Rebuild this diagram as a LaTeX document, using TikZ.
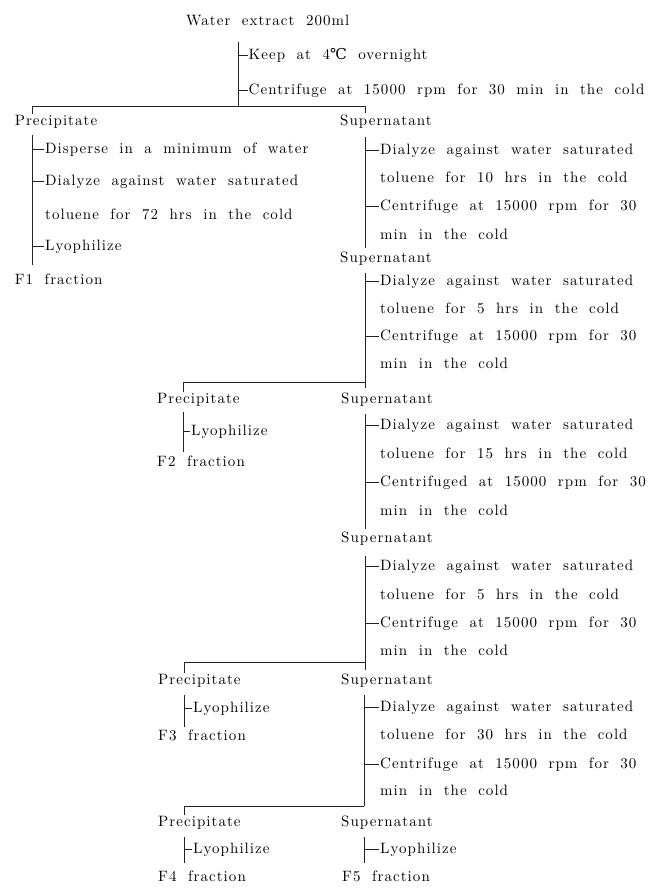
\documentclass[tikz,border=0pt]{standalone}
\usepackage{fontspec}
\setmainfont{lmroman10-regular.otf}[LetterSpace=7, WordSpace=1.9]
\newfontfamily\degreefont{DejaVu Serif}

\begin{document}
\begin{tikzpicture}[x=1pt, y=-1pt,
    every node/.style={font=\fontsize{15}{18}\selectfont, inner sep=1pt},
    txt/.style={anchor=mid west},
    line/.style={draw=lineColour, line width=0.8pt}]
    \definecolor{lineColour}{HTML}{222222}

    \useasboundingbox (0,0) rectangle (655,888);

    % Starting material and first treatment
    \node[txt] (water) at (185,23) {Water extract 200ml};
    \coordinate (s0top) at (238.5,42);
    \coordinate (s0bot) at (238.5,106);
    \node[txt] (keep) at (247.5,57) {Keep at 4{\degreefont ℃} overnight};
    \node[txt] (cen0) at (247.5,92) {Centrifuge at 15000 rpm for 30 min in the cold};
    \draw[line] (s0top) -- (s0bot);
    \foreach \n in {keep,cen0}
        \draw[line] (\n.west -| s0top) -- (\n.west);

    % First split
    \node[txt] (prec1) at (13.6,123) {Precipitate};
    \node[txt] (sup1) at (339,123) {Supernatant};
    \coordinate (b1l) at (32.6,106);
    \coordinate (b1r) at (365,106);
    \draw[line] (b1l |- prec1.north) -- (b1l) -- (b1r) -- (b1r |- sup1.north);

    % Precipitate -> F1
    \coordinate (p1top) at (32.6,135);
    \coordinate (p1bot) at (32.6,265);
    \node[txt] (disp1) at (44,151) {Disperse in a minimum of water};
    \node[txt] (dial1) at (44,183) {Dialyze against water saturated};
    \node[txt] (tol1) at (44,217) {toluene for 72 hrs in the cold};
    \node[txt] (lyo1) at (44,248) {Lyophilize};
    \node[txt] (f1) at (13.6,282) {F1 fraction};
    \draw[line] (p1top) -- (p1bot);
    \foreach \n in {disp1,dial1,lyo1}
        \draw[line] (\n.west -| p1top) -- (\n.west);

    % Supernatant, 10 hrs
    \coordinate (s1top) at (365,137);
    \coordinate (s1bot) at (365,248);
    \node[txt] (dial2) at (379,152) {Dialyze against water saturated};
    \node[txt] (tol2) at (379,180) {toluene for 10 hrs in the cold};
    \node[txt] (cen2) at (379,208) {Centrifuge at 15000 rpm for 30};
    \node[txt] (min2) at (379,237) {min in the cold};
    \draw[line] (s1top) -- (s1bot);
    \foreach \n in {dial2,cen2}
        \draw[line] (\n.west -| s1top) -- (\n.west);

    % Supernatant, 5 hrs
    \node[txt] (sup2) at (339,260) {Supernatant};
    \coordinate (s2top) at (365,273);
    \coordinate (s2bot) at (365,388);
    \node[txt] (dial3) at (379,283) {Dialyze against water saturated};
    \node[txt] (tol3) at (379,311) {toluene for 5 hrs in the cold};
    \node[txt] (cen3) at (379,338) {Centrifuge at 15000 rpm for 30};
    \node[txt] (min3) at (379,366) {min in the cold};
    \draw[line] (s2top) -- (s2bot);
    \foreach \n in {dial3,cen3}
        \draw[line] (\n.west -| s2top) -- (\n.west);

    % Second split -> F2
    \node[txt] (prec2) at (156,401) {Precipitate};
    \node[txt] (sup3) at (340,401) {Supernatant};
    \coordinate (b2l) at (183,382);
    \coordinate (b2r) at (365,382);
    \draw[line] (b2l |- prec2.north) -- (b2l) -- (b2r);
    \coordinate (p2top) at (183,412);
    \coordinate (p2bot) at (183,452);
    \node[txt] (lyo2) at (190,433) {Lyophilize};
    \node[txt] (f2) at (156,464) {F2 fraction};
    \draw[line] (p2top) -- (p2bot);
    \draw[line] (lyo2.west -| p2top) -- (lyo2.west);

    % Supernatant, 15 hrs
    \coordinate (s3top) at (365,414);
    \coordinate (s3bot) at (365,529);
    \node[txt] (dial4) at (379,427) {Dialyze against water saturated};
    \node[txt] (tol4) at (379,456) {toluene for 15 hrs in the cold};
    \node[txt] (cen4) at (379,484) {Centrifuged at 15000 rpm for 30};
    \node[txt] (min4) at (379,513) {min in the cold};
    \draw[line] (s3top) -- (s3bot);
    \foreach \n in {dial4,cen4}
        \draw[line] (\n.west -| s3top) -- (\n.west);

    % Supernatant, 5 hrs
    \node[txt] (sup4) at (340,540) {Supernatant};
    \coordinate (s4top) at (365,556);
    \coordinate (s4bot) at (365,670);
    \node[txt] (dial5) at (379,568) {Dialyze against water saturated};
    \node[txt] (tol5) at (379,597) {toluene for 5 hrs in the cold};
    \node[txt] (cen5) at (379,625) {Centrifuge at 15000 rpm for 30};
    \node[txt] (min5) at (379,653) {min in the cold};
    \draw[line] (s4top) -- (s4bot);
    \foreach \n in {dial5,cen5}
        \draw[line] (\n.west -| s4top) -- (\n.west);

    % Third split -> F3
    \node[txt] (prec3) at (157,682) {Precipitate};
    \node[txt] (sup5) at (340,682) {Supernatant};
    \coordinate (b3l) at (184,662);
    \coordinate (b3r) at (365,662);
    \draw[line] (b3l |- prec3.north) -- (b3l) -- (b3r);
    \coordinate (p3top) at (184,695);
    \coordinate (p3bot) at (184,727);
    \node[txt] (lyo3) at (192,710) {Lyophilize};
    \node[txt] (f3) at (157,738) {F3 fraction};
    \draw[line] (p3top) -- (p3bot);
    \draw[line] (lyo3.west -| p3top) -- (lyo3.west);

    % Supernatant, 30 hrs
    \coordinate (s5top) at (364,695);
    \coordinate (s5bot) at (364,806);
    \node[txt] (dial6) at (379,709) {Dialyze against water saturated};
    \node[txt] (tol6) at (379,737) {toluene for 30 hrs in the cold};
    \node[txt] (cen6) at (379,766) {Centrifuge at 15000 rpm for 30};
    \node[txt] (min6) at (379,793) {min in the cold};
    \draw[line] (s5top) -- (s5bot);
    \foreach \n in {dial6,cen6}
        \draw[line] (\n.west -| s5top) -- (\n.west);

    % Last split -> F4 and F5
    \node[txt] (prec4) at (157,824) {Precipitate};
    \node[txt] (sup6) at (340,824) {Supernatant};
    \coordinate (b4l) at (184,806);
    \draw[line] (b4l |- prec4.north) -- (b4l) -- (s5bot);
    \coordinate (p4top) at (184,837);
    \coordinate (p4bot) at (184,863);
    \coordinate (s6top) at (364,837);
    \coordinate (s6bot) at (364,863);
    \node[txt] (lyo4) at (192,851) {Lyophilize};
    \node[txt] (lyo5) at (379,851) {Lyophilize};
    \node[txt] (f4) at (157,879) {F4 fraction};
    \node[txt] (f5) at (341,879) {F5 fraction};
    \draw[line] (p4top) -- (p4bot);
    \draw[line] (s6top) -- (s6bot);
    \draw[line] (lyo4.west -| p4top) -- (lyo4.west);
    \draw[line] (lyo5.west -| s6top) -- (lyo5.west);

\end{tikzpicture}
\end{document}
